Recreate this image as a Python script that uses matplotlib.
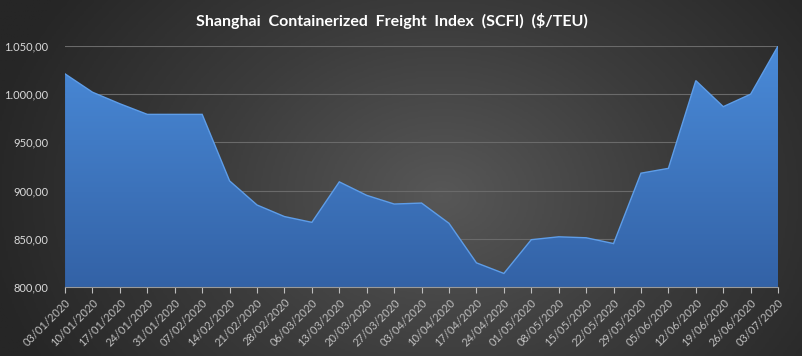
import numpy as np
import matplotlib
matplotlib.use("Agg")
from matplotlib import pyplot as plt
from matplotlib.colors import LinearSegmentedColormap
from matplotlib.ticker import FuncFormatter

# weekly SCFI values ($/TEU)
dates = ["03/01/2020", "10/01/2020", "17/01/2020", "24/01/2020", "31/01/2020", "07/02/2020",
         "14/02/2020", "21/02/2020", "28/02/2020", "06/03/2020", "13/03/2020", "20/03/2020",
         "27/03/2020", "03/04/2020", "10/04/2020", "17/04/2020", "24/04/2020", "01/05/2020",
         "08/05/2020", "15/05/2020", "22/05/2020", "29/05/2020", "05/06/2020", "12/06/2020",
         "19/06/2020", "26/06/2020", "03/07/2020"]
scfi = [1021, 1002, 990, 979, 979, 979,
        910, 885, 873, 867, 909, 895,
        886, 887, 866, 825, 814, 849,
        852, 851, 845, 918, 923, 1014,
        987, 1000, 1050]
y_ticks = [800, 850, 900, 950, 1000, 1050]

plt.rcParams['font.family'] = ['Lato', 'DejaVu Sans']

fig = plt.figure(figsize=(8.03, 3.56), dpi=100)

# radial background gradient
bg = fig.add_axes([0, 0, 1, 1], zorder=-10)
gx, gy = np.meshgrid(np.linspace(0, 1, 400), np.linspace(0, 1, 200))
r = np.sqrt(((gx - 0.55) * 1.3) ** 2 + ((gy - 0.45) * 0.75) ** 2)
r = np.clip(r / 0.75, 0, 1)
bg_cmap = LinearSegmentedColormap.from_list("bg", ["#575757", "#3c3c3c", "#262626"])
bg.imshow(r, cmap=bg_cmap, aspect="auto", extent=[0, 1, 0, 1], origin="lower")
bg.set_axis_off()

ax = fig.add_axes([0.081, 0.194, 0.888, 0.677])
ax.patch.set_alpha(0)
x = np.arange(len(dates))

# area with vertical blue gradient
poly = ax.fill_between(x, scfi, 800, color="none", lw=0)
fill_cmap = LinearSegmentedColormap.from_list("fill", ["#3362a6", "#4a8bd9"])
grad = np.linspace(0, 1, 256).reshape(-1, 1)
im = ax.imshow(grad, cmap=fill_cmap, aspect="auto", origin="lower",
               extent=[x[0], x[-1], 800, 1050], zorder=2)
im.set_clip_path(poly.get_paths()[0], transform=ax.transData)
ax.plot(x, scfi, color="#5e9de8", lw=1.0, zorder=3, solid_joinstyle="miter")

ax.set_xlim(x[0], x[-1])
ax.set_ylim(800, 1050)
ax.set_yticks(y_ticks)
ax.yaxis.set_major_formatter(FuncFormatter(
    lambda v, p: f"{v:,.2f}".replace(",", "X").replace(".", ",").replace("X", ".")))
ax.grid(axis="y", color="#6a6a6a", lw=0.8, zorder=1)
ax.set_axisbelow(True)

ax.set_xticks(x)
ax.set_xticklabels(dates, rotation=45, ha="right", rotation_mode="anchor")
ax.tick_params(axis="x", colors="#bfbfbf", labelsize=8, length=4, direction="out", pad=3)
ax.tick_params(axis="y", colors="#d9d9d9", labelsize=8, length=0, pad=12)
for side in ["top", "right", "left"]:
    ax.spines[side].set_visible(False)
ax.spines["bottom"].set_color("#9a9a9a")

fig.text(0.488, 0.942, "Shanghai  Containerized  Freight  Index  (SCFI)  ($/TEU)",
         ha="center", va="center", color="white", fontsize=11.5, fontweight="bold")

fig.savefig("out.png", dpi=100)
